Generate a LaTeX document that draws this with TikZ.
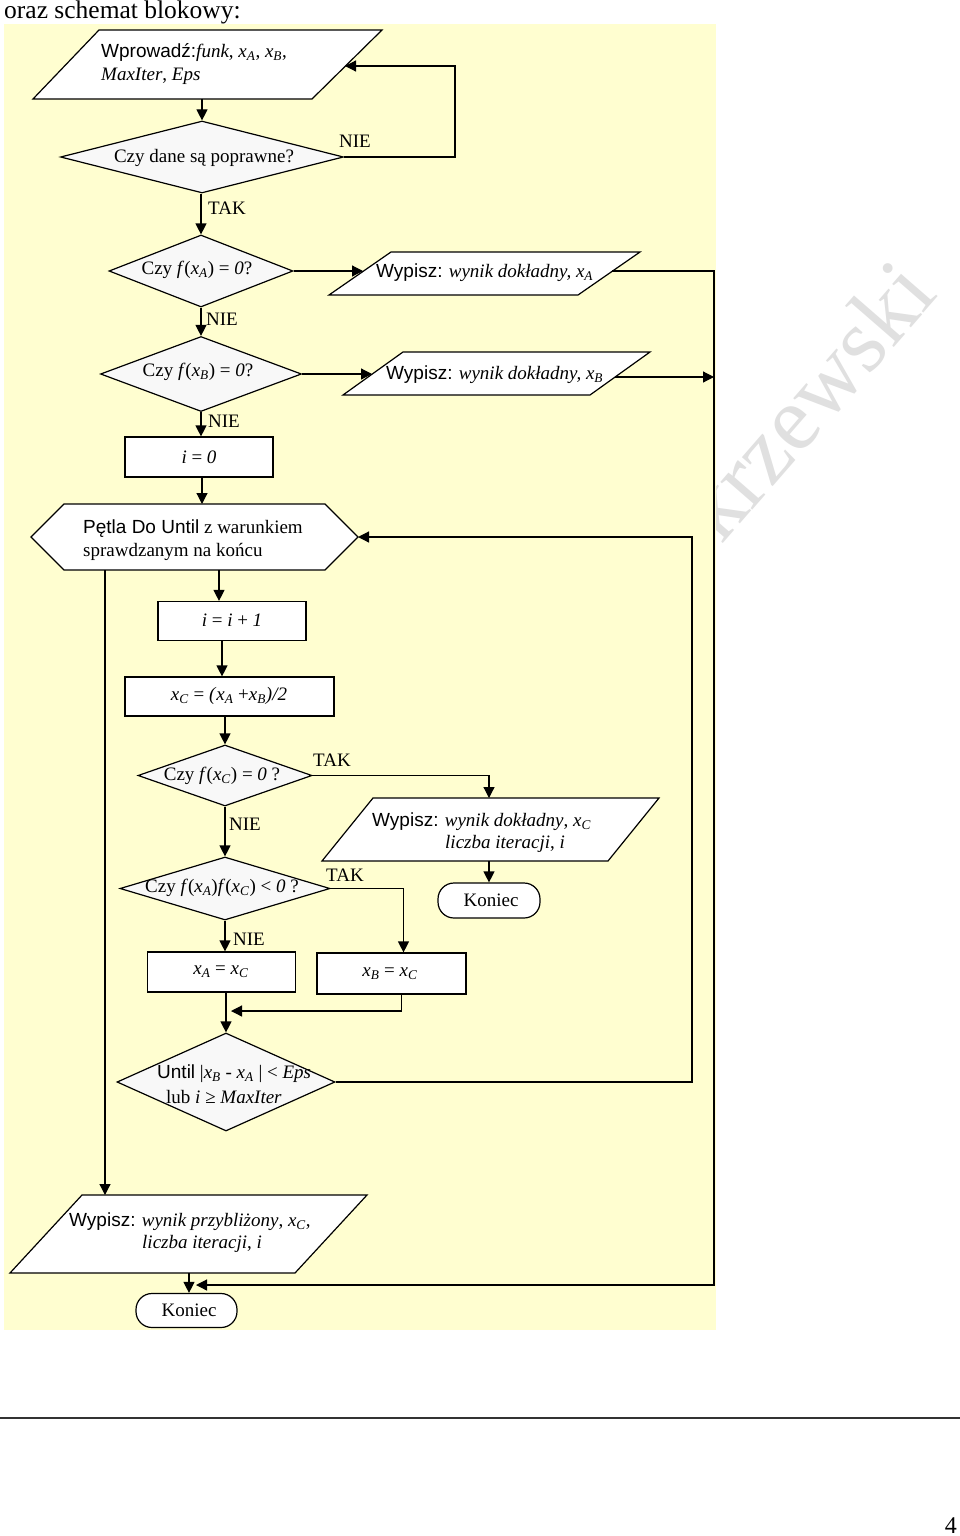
\documentclass[tikz,border=0pt]{standalone}
\usepackage{fontspec}
\setmainfont{Liberation Serif}
\setsansfont{Liberation Sans}
\usetikzlibrary{arrows.meta,shapes.geometric,calc}
\definecolor{panel}{RGB}{255,254,208}
\definecolor{dfill}{RGB}{248,248,248}
\newcommand\xs[1]{\textit{x}\textsubscript{\textit{#1}}}
\newcommand\fz{\fontsize{19}{23}\selectfont}
\begin{document}
\begin{tikzpicture}[x=1pt,y=-1pt,
  ln/.style={line width=1.2pt},
  arr/.style={line width=1.2pt,-{Triangle[length=11pt,width=11pt]}},
  shp/.style={draw,line width=1.2pt,fill=white},
  boxn/.style={shp,rectangle,inner sep=0pt},
  dia/.style={shp,diamond,fill=dfill,inner sep=0pt},
  term/.style={shp,rectangle,rounded corners=16pt,inner sep=0pt},
  txt/.style={inner sep=0pt,font=\fz,align=left,anchor=west},
  lbl/.style={inner sep=0pt,font=\fz}]

\fill[white] (0,0) rectangle (960,1536);
\useasboundingbox (0,0) rectangle (960,1536);
\node[rotate=49,anchor=base west,font=\fontsize{92}{92}\selectfont,text=gray!24,inner sep=0pt] (wm) at (721,546) {krzewski};
\fill[panel] (4,24) rectangle (716,1330);
\node[anchor=base west,inner sep=0pt,font=\fontsize{25.5}{28}\selectfont] (title) at (4,19) {oraz schemat blokowy:};

% input
\draw[shp] (99,30) -- (382,30) -- (312,99) -- (33,99) -- cycle;
\node[txt] (t1) at (101,64) {\textsf{Wprowadź:}\textit{funk}, \xs{A}, \xs{B},\\\textit{MaxIter}, \textit{Eps}};
\coordinate (p1s) at (202,99);
\coordinate (p1e) at (345,66);

% check data
\node[dia,minimum width=283,minimum height=72] (d1) at (202,157) {};
\node[lbl] (d1t) at (204,158) {Czy dane są poprawne?};
\draw[arr] (p1s) -- (d1.north);
\coordinate (c1) at (455,66);
\draw[arr] (d1.east) -| (c1) -- (p1e);
\node[lbl] (nie1) at (355,141) {NIE};
\node[lbl] (tak1) at (227,208) {TAK};

% f(xA)=0
\node[dia,minimum width=184,minimum height=72] (d2) at (201,271) {};
\node[lbl] (d2t) at (197,270) {Czy \textit{f}(\xs{A}) = \textit{0}?};
\draw[arr] (d1.south -| d2.north) -- (d2.north);
\draw[shp] (391,252) -- (640,252) -- (578,295) -- (329,295) -- cycle;
\node[txt] (p2t) at (376,273) {\textsf{Wypisz:} \textit{wynik dokładny, x}\textsubscript{\textit{A}}};
\coordinate (p2w) at (363,271);
\coordinate (p2e) at (612,271);
\draw[arr] (d2.east) -- (p2w);
\coordinate (rv1) at (714,271);
\coordinate (rv2) at (714,1285);
\coordinate (k2e) at (196,1285);
\draw[arr] (p2e) -- (rv1) -- (rv2) -- (k2e);
\node[lbl] (nie2) at (222,319) {NIE};

% f(xB)=0
\node[dia,minimum width=201,minimum height=75] (d3) at (201,374) {};
\node[lbl] (d3t) at (198,372) {Czy \textit{f}(\xs{B}) = \textit{0}?};
\draw[arr] (d2.south) -- (d3.north);
\draw[shp] (403,352) -- (650,352) -- (590,395) -- (343,395) -- cycle;
\node[txt] (p3t) at (386,375) {\textsf{Wypisz:} \textit{wynik dokładny, x}\textsubscript{\textit{B}}};
\coordinate (p3w) at (372,374);
\coordinate (p3e) at (615,377);
\draw[arr] (d3.east) -- (p3w);
\draw[arr] (p3e) -- (p3e -| rv1);
\node[lbl] (nie3) at (224,421) {NIE};

% i = 0
\node[boxn,minimum width=148,minimum height=40] (r1) at (199,457) {};
\node[lbl] (r1t) at (199,457) {\textit{i} = \textit{0}};
\draw[arr] (d3.south) -- (d3.south |- r1.north);

% loop hexagon
\draw[shp] (31,537) -- (64,504) -- (325,504) -- (358,537) -- (325,570) -- (64,570) -- cycle;
\node[txt] (ht) at (83,540) {\textsf{Pętla Do Until} z warunkiem\\sprawdzanym na końcu};
\coordinate (hn) at (202,504);
\coordinate (hs) at (219,570);
\coordinate (hsw) at (105,570);
\coordinate (he) at (358,537);
\draw[arr] (r1.south -| hn) -- (hn);

% i = i + 1
\node[boxn,minimum width=148,minimum height=39] (r2) at (232,621) {};
\node[lbl] (r2t) at (232,620) {\textit{i} = \textit{i} + \textit{1}};
\draw[arr] (hs) -- (hs |- r2.north);

% xC
\node[boxn,minimum width=209,minimum height=39] (r3) at (229.5,696.5) {};
\node[lbl] (r3t) at (229,696) {\xs{C} = \textit{(}\xs{A} +\xs{B}\textit{)/2}};
\draw[arr] ([xshift=-10pt]r2.south) -- ([xshift=-10pt]r2.south |- r3.north);

% f(xC)=0
\node[dia,minimum width=174,minimum height=61] (d4) at (225,775.5) {};
\node[lbl] (d4t) at (222,776) {Czy \textit{f}(\xs{C}) = \textit{0} ?};
\draw[arr] (d4.north |- r3.south) -- (d4.north);
\node[lbl] (tak2) at (332,760) {TAK};
\coordinate (p4n) at (489,798);
\draw[arr] (d4.east) -| (p4n);
\draw[shp] (373,798) -- (659,798) -- (608,861) -- (322,861) -- cycle;
\node[txt] (p4t) at (372,822) {\textsf{Wypisz:} \textit{wynik dokładny}, \xs{C}};
\node[txt] (p4u) at (445,844) {\textit{liczba iteracji}, \textit{i}};
\coordinate (p4s) at (489,861);
\node[term,minimum width=102,minimum height=35] (k1) at (489,900.5) {};
\node[lbl] (k1t) at (491,900) {Koniec};
\draw[arr] (p4s) -- (k1.north);
\node[lbl] (nie4) at (245,824) {NIE};

% f(xA)f(xC)<0
\node[dia,minimum width=210,minimum height=63] (d5) at (225,888.5) {};
\node[lbl] (d5t) at (222,888) {Czy \textit{f}(\xs{A})\textit{f}(\xs{C}) < \textit{0} ?};
\draw[arr] (d4.south) -- (d5.north);
\node[lbl] (tak3) at (345,875) {TAK};
\node[lbl] (nie5) at (249,939) {NIE};

% assignments
\node[boxn,minimum width=148,minimum height=40] (r4) at (221.5,972) {};
\node[lbl] (r4t) at (221,972) {\xs{A} = \xs{C}};
\node[boxn,minimum width=149,minimum height=41] (r5) at (391.5,973.5) {};
\node[lbl] (r5t) at (390,974) {\xs{B} = \xs{C}};
\draw[arr] (d5.south) -- (d5.south |- r4.north);
\draw[arr] (d5.east) -| ([xshift=12pt]r5.north);

% until
\node[dia,minimum width=218,minimum height=98] (d6) at (226,1082) {};
\node[txt] (d6t) at (157,1074) {\textsf{Until} |\xs{B} - \xs{A} | < \textit{Eps}};
\node[txt] (d6u) at (166,1097) {lub \textit{i} ≥ \textit{MaxIter}};
\draw[arr] (r4.south -| d6.north) -- (d6.north);
\coordinate (mrg) at (231,1011);
\draw[arr] ([xshift=10pt]r5.south) |- (mrg);
\coordinate (lb) at (692,1082);
\coordinate (lt) at (692,537);
\draw[arr] (d6.east) -- (lb) -- (lt) -- (he);

% exit of loop
\coordinate (p6n) at (105,1195);
\draw[arr] (hsw) -- (p6n);
\draw[shp] (82,1195) -- (367,1195) -- (295,1273) -- (10,1273) -- cycle;
\node[txt] (p6t) at (69,1222) {\textsf{Wypisz:} \textit{wynik przybliżony}, \xs{C},};
\node[txt] (p6u) at (142,1244) {\textit{liczba iteracji}, \textit{i}};
\coordinate (p6s) at (189,1273);
\node[term,minimum width=101,minimum height=34] (k2) at (186.5,1310.5) {};
\node[lbl] (k2t) at (189,1310) {Koniec};
\draw[arr] (p6s) -- (p6s |- k2.north);

% page footer
\draw[line width=2.2pt,black!80] (0,1418) -- (960,1418);
\node[anchor=base east,inner sep=0pt,font=\fontsize{24}{28}\selectfont] (pg) at (957,1533) {4};
\end{tikzpicture}
\end{document}
